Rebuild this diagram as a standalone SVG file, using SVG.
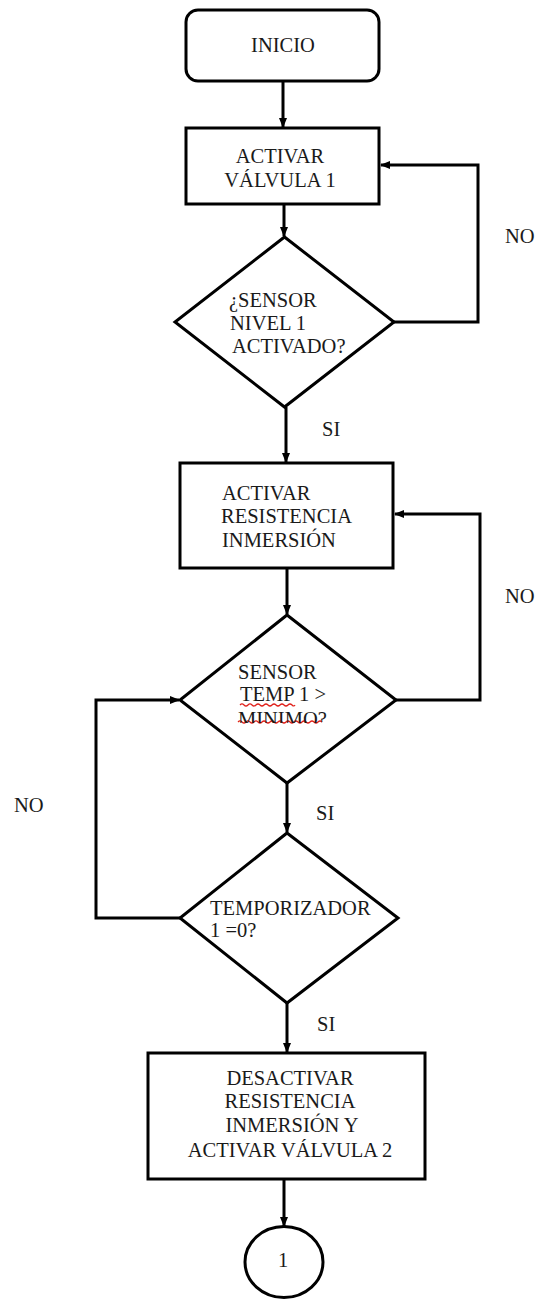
<svg xmlns="http://www.w3.org/2000/svg" width="537" height="1299" viewBox="0 0 537 1299">
  <style>
    .shape { fill: #ffffff; stroke: #000000; stroke-width: 3; stroke-linejoin: miter; }
    .edge { fill: none; stroke: #000000; stroke-width: 3; }
    .lbl { font-family: "Liberation Serif", "Times New Roman", serif; font-size: 20.5px; fill: #1a1a1a; }
    .mid { text-anchor: middle; }
    .squiggle { fill: none; stroke: #e0201a; stroke-width: 1.2; }
  </style>
  <defs>
    <marker id="arrow" markerUnits="userSpaceOnUse" markerWidth="10" markerHeight="10" viewBox="0 0 10 10" refX="9" refY="5" orient="auto">
      <path d="M0,1 L10,5 L0,9 Z" fill="#000000"/>
    </marker>
    <clipPath id="cut-d2">
      <rect x="0" y="0" width="537" height="723"/>
    </clipPath>
  </defs>

  <rect width="537" height="1299" fill="#ffffff"/>

  <!-- connectors -->
  <g id="connectors">
    <line class="edge" x1="283" y1="81" x2="283" y2="127" marker-end="url(#arrow)"/>
    <line class="edge" x1="284" y1="204" x2="284" y2="236" marker-end="url(#arrow)"/>
    <path class="edge" d="M394,322 H478 V165 H381" marker-end="url(#arrow)"/>
    <line class="edge" x1="286" y1="407" x2="286" y2="462" marker-end="url(#arrow)"/>
    <path class="edge" d="M396,700 H480 V514 H395" marker-end="url(#arrow)"/>
    <line class="edge" x1="287" y1="568" x2="287" y2="614" marker-end="url(#arrow)"/>
    <line class="edge" x1="287" y1="783" x2="287" y2="832" marker-end="url(#arrow)"/>
    <path class="edge" d="M180,918 H96 V700 H179" marker-end="url(#arrow)"/>
    <line class="edge" x1="287" y1="1003" x2="287" y2="1052" marker-end="url(#arrow)"/>
    <line class="edge" x1="284" y1="1179" x2="284" y2="1226" marker-end="url(#arrow)"/>

    <text class="lbl" x="505" y="243">NO</text>
    <text class="lbl" x="322" y="436">SI</text>
    <text class="lbl" x="505" y="603">NO</text>
    <text class="lbl" x="14" y="812">NO</text>
    <text class="lbl" x="316" y="820">SI</text>
    <text class="lbl" x="317" y="1031">SI</text>
  </g>

  <!-- start -->
  <g id="inicio">
    <rect class="shape" x="186" y="10" width="193" height="71" rx="12" ry="12"/>
    <text class="lbl mid" x="283" y="52">INICIO</text>
  </g>

  <!-- open valve 1 -->
  <g id="activar-valvula-1">
    <rect class="shape" x="186" y="128" width="193" height="76"/>
    <text class="lbl mid" x="280" y="163">ACTIVAR</text>
    <text class="lbl mid" x="280" y="187">VÁLVULA 1</text>
  </g>

  <!-- level sensor check -->
  <g id="sensor-nivel-1">
    <polygon class="shape" points="284.5,237 394,322 284.5,407 175,322"/>
    <text class="lbl" x="229" y="307">¿SENSOR</text>
    <text class="lbl" x="230" y="330">NIVEL 1</text>
    <text class="lbl" x="232" y="353">ACTIVADO?</text>
  </g>

  <!-- heater on -->
  <g id="activar-resistencia">
    <rect class="shape" x="180" y="463" width="213" height="105"/>
    <text class="lbl" x="222" y="500">ACTIVAR</text>
    <text class="lbl" x="221" y="523">RESISTENCIA</text>
    <text class="lbl" x="222" y="547">INMERSIÓN</text>
  </g>

  <!-- temperature check -->
  <g id="sensor-temp-1">
    <polygon class="shape" points="287,615 396,700 287,783 180,700"/>
    <path class="squiggle" d="M240,705 q2,-2 4,0 t4,0 t4,0 t4,0 t4,0 t4,0 t4,0 t4,0 t4,0 t4,0 t4,0 t4,0 t4,0 t3,0"/>
    <path class="squiggle" d="M238,722 q2,-2 4,0 t4,0 t4,0 t4,0 t4,0 t4,0 t4,0 t4,0 t4,0 t4,0 t4,0 t4,0 t4,0 t4,0 t4,0 t4,0 t4,0 t4,0 t4,0 t4,0 t4,0"/>
    <text class="lbl" x="238" y="679">SENSOR</text>
    <text class="lbl" x="240" y="701">TEMP 1 &gt;</text>
    <text class="lbl" x="238" y="726" clip-path="url(#cut-d2)">MINIMO?</text>
  </g>

  <!-- timer check -->
  <g id="temporizador-1">
    <polygon class="shape" points="287,833 398,918 287,1003 180,918"/>
    <text class="lbl" x="210" y="915">TEMPORIZADOR</text>
    <text class="lbl" x="210" y="937">1 =0?</text>
  </g>

  <!-- heater off, valve 2 on -->
  <g id="desactivar-resistencia">
    <rect class="shape" x="148" y="1053" width="277" height="126"/>
    <text class="lbl mid" x="290" y="1085">DESACTIVAR</text>
    <text class="lbl mid" x="290" y="1108">RESISTENCIA</text>
    <text class="lbl mid" x="292" y="1132">INMERSIÓN Y</text>
    <text class="lbl mid" x="290" y="1157">ACTIVAR VÁLVULA 2</text>
  </g>

  <!-- off-page connector -->
  <g id="conector-1">
    <ellipse class="shape" cx="284" cy="1262" rx="39" ry="35.5"/>
    <text class="lbl mid" x="283" y="1267">1</text>
  </g>
</svg>
